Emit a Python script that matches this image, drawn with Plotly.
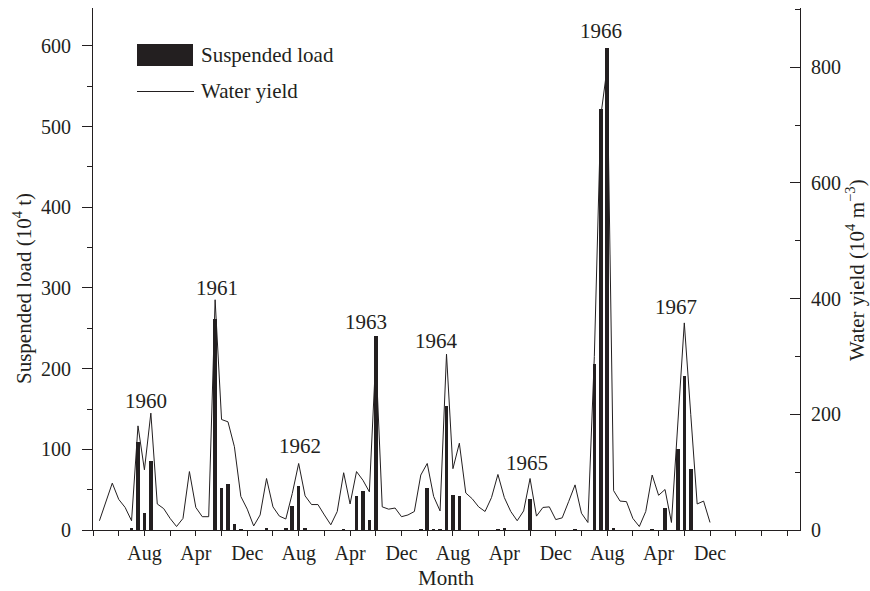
import plotly.graph_objects as go

# Month index: 1 = Jan 1960 ... 96 = Dec 1967
months = list(range(1, 97))

# Water yield (10^4 m^-3), right axis
water_yield = [
    16, 48, 81, 53, 39, 16, 180, 104, 202, 45, 37, 20,      # 1960
    6, 20, 101, 39, 23, 23, 398, 191, 187, 144, 58, 36,     # 1961
    7, 26, 89, 40, 24, 19, 63, 115, 59, 44, 44, 26,         # 1962
    9, 32, 99, 45, 101, 86, 66, 300, 40, 36, 38, 23,        # 1963
    26, 32, 95, 115, 58, 33, 304, 106, 150, 64, 54, 40,     # 1964
    32, 56, 96, 56, 32, 16, 33, 89, 24, 39, 40, 18,         # 1965
    21, 49, 78, 29, 13, 300, 715, 800, 68, 50, 49, 20,      # 1966
    6, 32, 95, 60, 70, 13, 185, 358, 200, 45, 50, 13,       # 1967
]

# Suspended load (10^4 t), left axis
suspended_load = [
    0, 0, 0, 0, 0, 3, 109, 21, 85, 0, 0, 0,                 # 1960
    0, 0, 0, 0, 0, 0, 261, 52, 57, 7, 1, 0,                 # 1961
    0, 0, 2, 0, 0, 2, 30, 54, 2, 0, 0, 0,                   # 1962
    0, 0, 1, 0, 42, 48, 12, 240, 0, 0, 0, 0,                # 1963
    0, 0, 1, 52, 1, 1, 154, 43, 42, 0, 0, 0,                # 1964
    0, 0, 1, 2, 0, 0, 0, 38, 0, 0, 0, 0,                    # 1965
    0, 0, 1, 0, 0, 206, 522, 597, 3, 0, 0, 0,               # 1966
    0, 0, 1, 0, 27, 0, 100, 191, 76, 0, 0, 0,               # 1967
]

tick_vals = list(range(0, 109, 4))
tick_labels = ["", "", "Aug", "", "Apr", "", "Dec", "", "Aug", "", "Apr", "", "Dec", "",
               "Aug", "", "Apr", "", "Dec", "", "Aug", "", "Apr", "", "Dec", "", "", ""]

year_labels = ["1960", "1961", "1962", "1963", "1964", "1965", "1966", "1967"]

INK = "#231f20"
FONT = "Liberation Serif"

fig = go.Figure()
fig.add_trace(go.Bar(x=months, y=suspended_load, width=0.55, marker=dict(color=INK, line=dict(width=0)),
                     name="Suspended load", yaxis="y", showlegend=False))
fig.add_trace(go.Scatter(x=months, y=water_yield, mode="lines", line=dict(color=INK, width=1),
                         name="Water yield", yaxis="y2", showlegend=False))

W, H = 870, 591
L, R, T, B = 93, 70, 8, 61
pw, ph = W - L - R, H - T - B

def px_x(x):
    return (x - L) / pw

def px_y(y):
    return (H - B - y) / ph

year_pos = [(8.2, 160), (19.3, 300), (32.2, 104), (42.5, 258), (53.4, 234), (67.5, 83), (79.0, 619), (90.7, 276)]
annotations = []
for lab, (xx, yy) in zip(year_labels, year_pos):
    annotations.append(dict(x=xx, y=yy, xref="x", yref="y", text=lab, showarrow=False,
                            font=dict(family=FONT, size=21, color=INK), xanchor="center", yanchor="middle"))

# axis titles
annotations.append(dict(x=px_x(22), y=px_y(289), xref="paper", yref="paper", text="Suspended load (10<sup>4</sup> t)",
                        textangle=-90, showarrow=False, font=dict(family=FONT, size=21, color=INK),
                        xanchor="center", yanchor="middle"))
annotations.append(dict(x=px_x(855), y=px_y(270), xref="paper", yref="paper", text="Water yield (10<sup>4</sup> m<sup>\u22123</sup>)",
                        textangle=-90, showarrow=False, font=dict(family=FONT, size=21, color=INK),
                        xanchor="center", yanchor="middle"))
annotations.append(dict(x=px_x(446), y=px_y(578), xref="paper", yref="paper", text="Month",
                        showarrow=False, font=dict(family=FONT, size=21, color=INK),
                        xanchor="center", yanchor="middle"))
# legend text
annotations.append(dict(x=px_x(199), y=px_y(55), xref="paper", yref="paper", text="Suspended load",
                        showarrow=False, font=dict(family=FONT, size=21, color=INK), xanchor="left", yanchor="middle"))
annotations.append(dict(x=px_x(199), y=px_y(91), xref="paper", yref="paper", text="Water yield",
                        showarrow=False, font=dict(family=FONT, size=21, color=INK), xanchor="left", yanchor="middle"))

shapes = [
    dict(type="rect", xref="paper", yref="paper", x0=px_x(137), x1=px_x(193), y0=px_y(66), y1=px_y(44),
         fillcolor=INK, line=dict(width=0)),
    dict(type="line", xref="paper", yref="paper", x0=px_x(137), x1=px_x(194), y0=px_y(91.5), y1=px_y(91.5),
         line=dict(color=INK, width=1)),
]

fig.update_layout(
    width=W, height=H,
    margin=dict(l=L, r=R, t=T, b=B),
    paper_bgcolor="white", plot_bgcolor="white",
    font=dict(family=FONT, size=20, color=INK),
    bargap=0,
    xaxis=dict(range=[0, 110], tickmode="array", tickvals=tick_vals, ticktext=tick_labels,
               ticks="outside", ticklen=5, tickwidth=1, tickcolor=INK,
               showline=True, linecolor=INK, linewidth=1, showgrid=False, zeroline=False,
               tickfont=dict(family=FONT, size=20, color=INK)),
    yaxis=dict(range=[0, ph / 0.8067], tickmode="linear", tick0=0, dtick=100,
               ticks="outside", ticklen=10, tickwidth=1, tickcolor=INK,
               minor=dict(dtick=50, ticks="outside", ticklen=5, tickwidth=1, tickcolor=INK),
               showline=True, linecolor=INK, linewidth=1, showgrid=False, zeroline=False,
               ticklabelstandoff=7, tickfont=dict(family=FONT, size=20, color=INK)),
    yaxis2=dict(range=[0, ph / 0.5785], overlaying="y", side="right", tickmode="linear", tick0=0, dtick=200,
                ticks="inside", ticklen=10, tickwidth=1, tickcolor=INK,
                minor=dict(dtick=100, ticks="inside", ticklen=5, tickwidth=1, tickcolor=INK),
                showline=True, linecolor=INK, linewidth=1, showgrid=False, zeroline=False,
                ticklabelstandoff=6, tickfont=dict(family=FONT, size=20, color=INK)),
    annotations=annotations,
    shapes=shapes,
    showlegend=False,
)

fig.write_html("out.html")
